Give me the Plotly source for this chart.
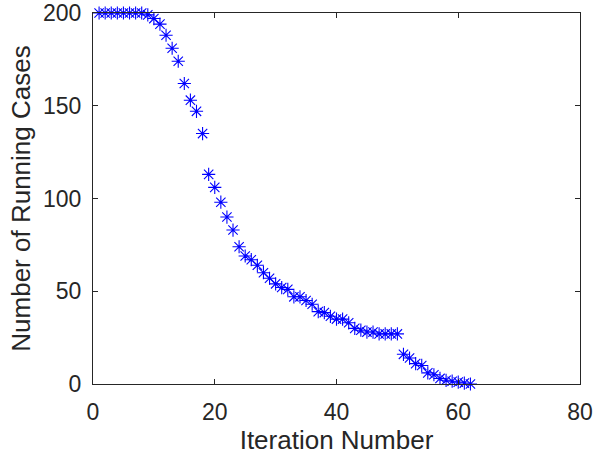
import plotly.graph_objects as go

iterations = list(range(1, 63))
running_cases = [200, 200, 200, 200, 200, 200, 200, 200, 199, 197,
                 194, 188, 181, 174, 162, 153, 147, 135, 113, 106,
                 98, 90, 83, 74, 69, 67, 64, 60, 57, 54,
                 52, 51, 47, 47, 45, 43, 39, 38.5, 36.5, 35,
                 35, 33, 30, 29, 28, 28, 27, 27, 27, 27,
                 16, 14, 11, 10, 6, 5, 3, 2, 1.5, 1,
                 0.5, 0]

x_ticks = [0, 20, 40, 60, 80]
y_ticks = [0, 50, 100, 150, 200]

FONT = "Liberation Sans, Arial"
TXT = "#262626"

fig = go.Figure()
fig.add_trace(go.Scatter(
    x=iterations, y=running_cases, mode="markers",
    marker=dict(symbol="asterisk-open", size=11, color="#0000ff",
                line=dict(color="#0000ff", width=1.1)),
    cliponaxis=False,
))

axis_common = dict(
    showgrid=False, zeroline=False, showline=True, linecolor=TXT,
    linewidth=1, mirror="ticks", ticks="inside", ticklen=5, tickcolor=TXT,
    tickfont=dict(family=FONT, size=23, color=TXT), automargin=False,
)

fig.update_layout(
    width=598, height=460,
    margin=dict(l=93, r=18, t=13, b=76),
    paper_bgcolor="white", plot_bgcolor="white",
    showlegend=False,
    xaxis=dict(range=[0, 80], tickvals=x_ticks, ticklabelstandoff=7,
               title=dict(text="Iteration Number", standoff=6,
                          font=dict(family=FONT, size=26, color=TXT)),
               **axis_common),
    yaxis=dict(range=[0, 200], tickvals=y_ticks, ticklabelstandoff=6,
               title=dict(text="Number of Running Cases", standoff=4,
                          font=dict(family=FONT, size=26, color=TXT)),
               **axis_common),
)

fig.write_html("out.html")
